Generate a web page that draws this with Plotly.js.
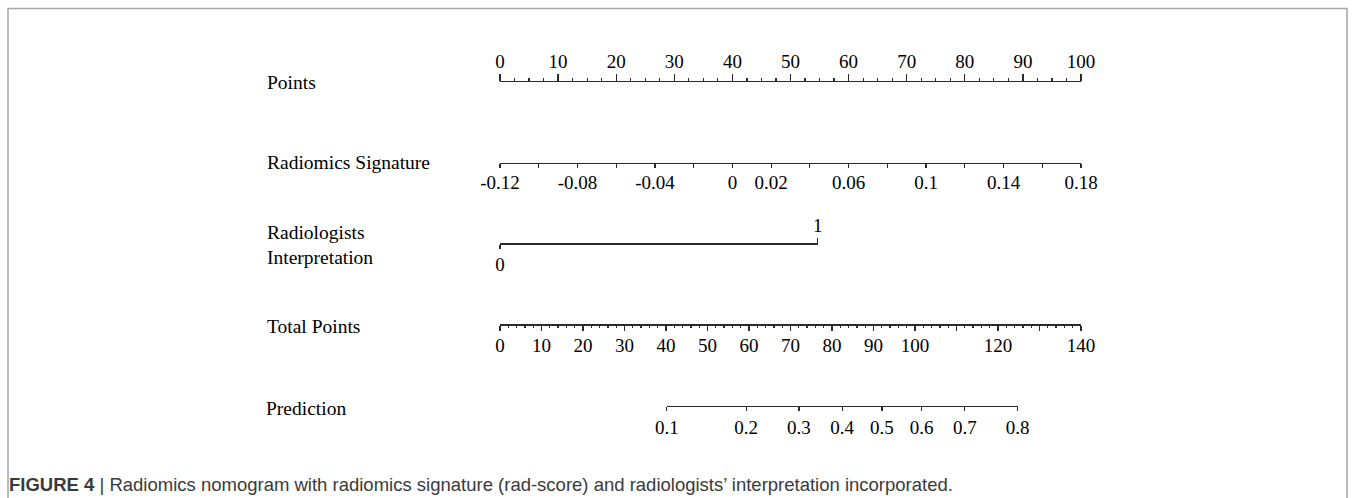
<!DOCTYPE html>
<html>
<head>
<meta charset="utf-8">
<script src="https://cdn.plot.ly/plotly-3.0.1.min.js"></script>
<style>
  html, body { margin: 0; padding: 0; background: #fff; }
  #chart { width: 1357px; height: 498px; }
</style>
</head>
<body>
<div id="chart"></div>
<script>
// ---------------- data ----------------
const rowNames = ["Points", "Radiomics Signature", "Radiologists<br>Interpretation", "Total Points", "Prediction"];

const pointsRange = [0, 100];
const pointsTickVals = [0, 10, 20, 30, 40, 50, 60, 70, 80, 90, 100];
const pointsTickText = ["0", "10", "20", "30", "40", "50", "60", "70", "80", "90", "100"];
const pointsMinorStep = 2.5;

const radScoreRange = [-0.12, 0.18];          // maps to 0..100 points
const radScoreTickVals = [-0.12, -0.10, -0.08, -0.06, -0.04, -0.02, 0, 0.02, 0.04, 0.06, 0.08, 0.10, 0.12, 0.14, 0.16, 0.18];
const radScoreTickText = ["-0.12", "", "-0.08", "", "-0.04", "", "0", "0.02", "", "0.06", "", "0.1", "", "0.14", "", "0.18"];

const radiologistValues = [0, 1];
const radiologistPoints = [0, 54.7];

const totalRange = [0, 140];
const totalTickVals = [0, 10, 20, 30, 40, 50, 60, 70, 80, 90, 100, 110, 120, 130, 140];
const totalTickText = ["0", "10", "20", "30", "40", "50", "60", "70", "80", "90", "100", "", "120", "", "140"];
const totalMinorStep = 2;

const predictionProbs = [0.1, 0.2, 0.3, 0.4, 0.5, 0.6, 0.7, 0.8];
const predictionLabels = ["0.1", "0.2", "0.3", "0.4", "0.5", "0.6", "0.7", "0.8"];
const lpIntercept = -3.902;   // linear predictor = intercept + slope * total points
const lpSlope = 0.0424;

const caption = "<b>FIGURE 4</b> | Radiomics nomogram with radiomics signature (rad-score) and radiologists\u2019 interpretation incorporated.";

// ---------------- layout helpers ----------------
const W = 1357, H = 498;
const scaleLeftPx = 500, scaleRightPx = 1081;
const serif = "Liberation Serif, Times New Roman, serif";
const axisColor = "#2a2a2a";

function pointsToPaper(p) { return (scaleLeftPx + (p - pointsRange[0]) / (pointsRange[1] - pointsRange[0]) * (scaleRightPx - scaleLeftPx)) / W; }
function totalToPaper(t) { return (scaleLeftPx + (t - totalRange[0]) / (totalRange[1] - totalRange[0]) * (scaleRightPx - scaleLeftPx)) / W; }
function yPaper(px) { return 1 - px / H; }
function probToTotal(p) { return (Math.log(p / (1 - p)) - lpIntercept) / lpSlope; }

const predTotals = predictionProbs.map(probToTotal);

const tickFont = { family: serif, size: 19, color: "#000" };

function baseAxis(extra) {
  return Object.assign({
    anchor: "free",
    showgrid: false,
    zeroline: false,
    showline: true,
    linecolor: axisColor,
    linewidth: 1.3,
    ticks: "outside",
    tickcolor: axisColor,
    tickwidth: 1.2,
    tickmode: "array",
    tickfont: tickFont,
    fixedrange: true,
    automargin: false
  }, extra);
}

const layout = {
  width: W, height: H,
  margin: { l: 0, r: 0, t: 0, b: 0, pad: 0 },
  paper_bgcolor: "#ffffff",
  plot_bgcolor: "rgba(0,0,0,0)",
  showlegend: false,
  yaxis: { range: [0, 1], domain: [0, 1], visible: false, fixedrange: true },
  xaxis: baseAxis({
    domain: [pointsToPaper(pointsRange[0]), pointsToPaper(pointsRange[1])],
    range: pointsRange, position: yPaper(80.7), side: "top",
    tickvals: pointsTickVals, ticktext: pointsTickText, ticklen: 7, ticklabelstandoff: -2,
    minor: { dtick: pointsMinorStep, tick0: 0, ticks: "outside", ticklen: 3, tickcolor: axisColor, tickwidth: 1.2 }
  }),
  xaxis2: baseAxis({
    domain: [pointsToPaper(0), pointsToPaper(100)],
    range: radScoreRange, position: yPaper(162.7), side: "bottom",
    tickvals: radScoreTickVals, ticktext: radScoreTickText, ticklen: 4, ticklabelstandoff: -2
  }),
  xaxis3: baseAxis({
    domain: [pointsToPaper(radiologistPoints[0]), pointsToPaper(radiologistPoints[1])],
    range: [radiologistValues[0], radiologistValues[1]], position: yPaper(243.3), side: "bottom",
    tickvals: [radiologistValues[0]], ticktext: [String(radiologistValues[0])], ticklen: 4
  }),
  xaxis4: baseAxis({
    domain: [pointsToPaper(radiologistPoints[0]), pointsToPaper(radiologistPoints[1])],
    range: [radiologistValues[0], radiologistValues[1]], position: yPaper(243.3), side: "top",
    tickvals: [radiologistValues[1]], ticktext: [String(radiologistValues[1])], ticklen: 5, ticklabelstandoff: -1
  }),
  xaxis5: baseAxis({
    domain: [totalToPaper(totalRange[0]), totalToPaper(totalRange[1])],
    range: totalRange, position: yPaper(324.3), side: "bottom",
    tickvals: totalTickVals, ticktext: totalTickText, ticklen: 5, ticklabelstandoff: -1,
    minor: { dtick: totalMinorStep, tick0: 0, ticks: "outside", ticklen: 2.5, tickcolor: axisColor, tickwidth: 1.2 }
  }),
  xaxis6: baseAxis({
    domain: [totalToPaper(predTotals[0]), totalToPaper(predTotals[predTotals.length - 1])],
    range: [predTotals[0], predTotals[predTotals.length - 1]], position: yPaper(405.7), side: "bottom",
    tickvals: predTotals, ticktext: predictionLabels, ticklen: 4
  }),
  annotations: [],
  shapes: [{
    type: "path", xref: "paper", yref: "paper",
    path: "M " + (8 / W) + " -0.05 L " + (8 / W) + " " + yPaper(8.5) + " L " + (1347 / W) + " " + yPaper(8.5) + " L " + (1347 / W) + " -0.05",
    line: { color: "#a8a8a8", width: 1.5 }
  }]
};

const rowLabelY = [83, 162, 244.5, 326, 408];
const rowLabelX = [265, 265, 265, 265, 264];
rowNames.forEach((name, i) => {
  layout.annotations.push({
    text: name, xref: "paper", yref: "paper",
    x: rowLabelX[i] / W, y: yPaper(rowLabelY[i]),
    xanchor: "left", yanchor: "middle", align: "left", showarrow: false,
    font: { family: serif, size: 19.5, color: "#000" }
  });
});
layout.annotations.push({
  text: caption, xref: "paper", yref: "paper",
  x: 7 / W, y: yPaper(484), xanchor: "left", yanchor: "middle", showarrow: false,
  font: { family: "Liberation Sans, Arial, sans-serif", size: 18.5, color: "#3a3a3a" }
});

// invisible anchor traces so each axis is built
const axisIds = ["x", "x2", "x3", "x4", "x5", "x6"];
const axisRanges = [pointsRange, radScoreRange, [radiologistValues[0], radiologistValues[1]], [radiologistValues[0], radiologistValues[1]], totalRange, [predTotals[0], predTotals[predTotals.length - 1]]];
const data = axisIds.map((id, i) => ({
  type: "scatter", mode: "markers", xaxis: id, yaxis: "y",
  x: axisRanges[i], y: [-1, -1],
  marker: { opacity: 0, size: 1 }, hoverinfo: "skip", showlegend: false
}));

Plotly.newPlot("chart", data, layout, { staticPlot: true, displayModeBar: false });
</script>
</body>
</html>
